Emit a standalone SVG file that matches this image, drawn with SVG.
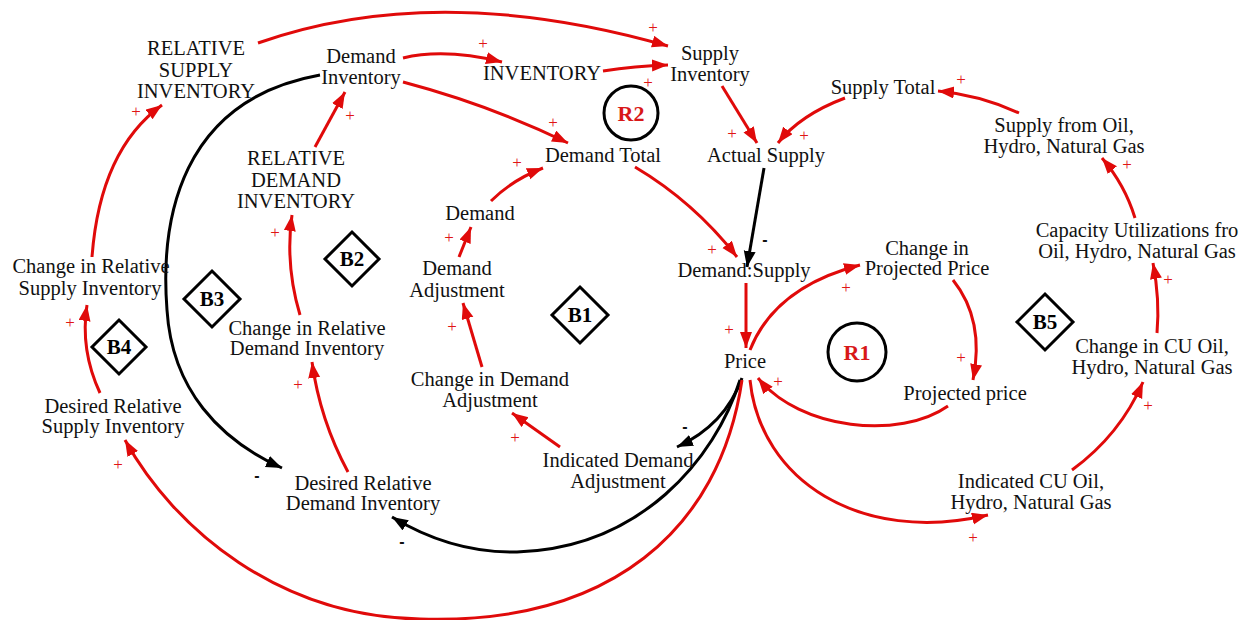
<svg xmlns="http://www.w3.org/2000/svg" width="1249" height="620" viewBox="0 0 1249 620">
<style>
.t{font-family:"Liberation Serif","Times New Roman",serif;font-size:20.5px;fill:#111;text-anchor:middle}
.p{font-family:"Liberation Serif","Times New Roman",serif;font-size:17px;fill:#e01515;text-anchor:middle}
.m{font-family:"Liberation Sans",Arial,sans-serif;font-size:16px;font-weight:bold;fill:#111;text-anchor:middle}
.r{fill:none;stroke:#e00a0a;stroke-width:3;marker-end:url(#ar)}
.k{fill:none;stroke:#000;stroke-width:3;marker-end:url(#ak)}
.d{fill:#fff;stroke:#000;stroke-width:3}
.bl{font-family:"Liberation Serif","Times New Roman",serif;font-size:21px;font-weight:bold;fill:#000;text-anchor:middle}
.rl{font-family:"Liberation Serif","Times New Roman",serif;font-size:22px;font-weight:bold;fill:#d81818;text-anchor:middle}
</style>
<defs>
<marker id="ar" markerUnits="userSpaceOnUse" markerWidth="18" markerHeight="14" refX="16" refY="6" orient="auto"><path d="M0,0 L16,6 L0,12 z" fill="#e00a0a"/></marker>
<marker id="ak" markerUnits="userSpaceOnUse" markerWidth="18" markerHeight="14" refX="16" refY="6" orient="auto"><path d="M0,0 L16,6 L0,12 z" fill="#000"/></marker>
</defs>
<rect width="1249" height="620" fill="#fff"/>
<g id="connectors">
<path class="r" d="M258,43 Q437,-20 668,46"/>
<path class="r" d="M403,58 Q445,48 502,62"/>
<path class="r" d="M603,71 Q635,66 668,65"/>
<path class="r" d="M403,82 Q490,105 568,143"/>
<path class="r" d="M491,201 Q512,180 543,168"/>
<path class="r" d="M635,167 Q694,202 737,257"/>
<path class="r" d="M722,86 Q738,112 757,143"/>
<path class="r" d="M845,98 Q800,115 778,143"/>
<path class="k" d="M764,168 L747,267"/>
<path class="r" d="M1019,113 Q980,95 938,91"/>
<path class="r" d="M1135,218 Q1125,185 1102,158"/>
<path class="r" d="M1157,333 Q1160,300 1153,263"/>
<path class="r" d="M1072,470 Q1120,435 1143,382"/>
<path class="r" d="M750,380 C760,480 860,545 988,515"/>
<path class="r" d="M750,350 Q775,287 860,265"/>
<path class="r" d="M953,280 Q985,320 973,380"/>
<path class="r" d="M948,406 C900,440 800,430 758,378"/>
<path class="r" d="M746,283 L746,348"/>
<path class="k" d="M742,378 Q725,425 677,447"/>
<path class="k" d="M740,380 C715,460 640,548 517,552 C470,553 430,540 392,517"/>
<path class="r" d="M742,380 C720,530 610,625 420,619 C280,617 175,530 125,440"/>
<path class="k" d="M320,75 C180,100 160,220 167,310 C172,390 220,440 282,468"/>
<path class="r" d="M92,257 Q100,150 162,105"/>
<path class="r" d="M100,393 Q80,350 87,305"/>
<path class="r" d="M348,472 Q320,420 312,362"/>
<path class="r" d="M300,315 Q285,265 292,215"/>
<path class="r" d="M315,147 L345,92"/>
<path class="r" d="M459,257 L471,227"/>
<path class="r" d="M482,367 L463,303"/>
<path class="r" d="M560,447 L512,413"/>
<text class="p" x="653" y="33">+</text>
<text class="p" x="483" y="49">+</text>
<text class="p" x="648" y="88">+</text>
<text class="p" x="553" y="128">+</text>
<text class="p" x="517" y="168">+</text>
<text class="p" x="712" y="255">+</text>
<text class="p" x="732" y="139">+</text>
<text class="p" x="804" y="141">+</text>
<text class="m" x="765" y="245">-</text>
<text class="p" x="961" y="85">+</text>
<text class="p" x="1127" y="170">+</text>
<text class="p" x="1168" y="285">+</text>
<text class="p" x="1148" y="411">+</text>
<text class="p" x="973" y="543">+</text>
<text class="p" x="846" y="293">+</text>
<text class="p" x="961" y="363">+</text>
<text class="p" x="778" y="387">+</text>
<text class="p" x="729" y="335">+</text>
<text class="m" x="685" y="432">-</text>
<text class="m" x="402" y="547">-</text>
<text class="p" x="118" y="470">+</text>
<text class="m" x="257" y="481">-</text>
<text class="p" x="136" y="117">+</text>
<text class="p" x="70" y="328">+</text>
<text class="p" x="298" y="390">+</text>
<text class="p" x="275" y="238">+</text>
<text class="p" x="350" y="121">+</text>
<text class="p" x="449" y="243">+</text>
<text class="p" x="452" y="332">+</text>
<text class="p" x="515" y="443">+</text>
</g>
<g id="relative-supply-inventory"><text class="t" x="196" y="55">RELATIVE</text><text class="t" x="196" y="77">SUPPLY</text><text class="t" x="196" y="98">INVENTORY</text></g>
<g id="demand-inventory"><text class="t" x="361" y="63">Demand</text><text class="t" x="361" y="84">Inventory</text></g>
<g id="inventory"><text class="t" x="542" y="80">INVENTORY</text></g>
<g id="supply-inventory"><text class="t" x="710" y="60">Supply</text><text class="t" x="710" y="81">Inventory</text></g>
<g id="demand-total"><text class="t" x="603" y="162">Demand Total</text></g>
<g id="actual-supply"><text class="t" x="766" y="162">Actual Supply</text></g>
<g id="supply-total"><text class="t" x="883" y="94">Supply Total</text></g>
<g id="supply-from-oil"><text class="t" x="1064" y="132">Supply from Oil,</text><text class="t" x="1064" y="153">Hydro, Natural Gas</text></g>
<g id="capacity-utilizations"><text class="t" x="1137" y="237">Capacity Utilizations fro</text><text class="t" x="1137" y="258">Oil, Hydro, Natural Gas</text></g>
<g id="change-in-projected-price"><text class="t" x="927" y="255">Change in</text><text class="t" x="927" y="275">Projected Price</text></g>
<g id="demand-supply"><text class="t" x="744" y="277">Demand:Supply</text></g>
<g id="demand"><text class="t" x="480" y="220">Demand</text></g>
<g id="demand-adjustment"><text class="t" x="457" y="275">Demand</text><text class="t" x="457" y="297">Adjustment</text></g>
<g id="relative-demand-inventory"><text class="t" x="296" y="165">RELATIVE</text><text class="t" x="296" y="187">DEMAND</text><text class="t" x="296" y="208">INVENTORY</text></g>
<g id="change-in-relative-supply-inventory"><text class="t" x="91" y="273">Change in Relative</text><text class="t" x="90" y="295">Supply Inventory</text></g>
<g id="change-in-relative-demand-inventory"><text class="t" x="307" y="335">Change in Relative</text><text class="t" x="307" y="355">Demand Inventory</text></g>
<g id="desired-relative-supply-inventory"><text class="t" x="113" y="413">Desired Relative</text><text class="t" x="113" y="433">Supply Inventory</text></g>
<g id="desired-relative-demand-inventory"><text class="t" x="363" y="490">Desired Relative</text><text class="t" x="363" y="510">Demand Inventory</text></g>
<g id="change-in-demand-adjustment"><text class="t" x="490" y="386">Change in Demand</text><text class="t" x="490" y="407">Adjustment</text></g>
<g id="price"><text class="t" x="745" y="368">Price</text></g>
<g id="indicated-demand-adjustment"><text class="t" x="618" y="467">Indicated Demand</text><text class="t" x="618" y="488">Adjustment</text></g>
<g id="projected-price"><text class="t" x="965" y="400">Projected price</text></g>
<g id="change-in-cu"><text class="t" x="1152" y="353">Change in CU Oil,</text><text class="t" x="1152" y="374">Hydro, Natural Gas</text></g>
<g id="indicated-cu"><text class="t" x="1031" y="488">Indicated CU Oil,</text><text class="t" x="1031" y="509">Hydro, Natural Gas</text></g>
<g id="loop-B1"><polygon class="d" points="580,287 608,315 580,343 552,315"/><text class="bl" x="580" y="322">B1</text></g>
<g id="loop-B2"><polygon class="d" points="352,232 379,259 352,286 325,259"/><text class="bl" x="352" y="266">B2</text></g>
<g id="loop-B3"><polygon class="d" points="212,271 240,299 212,327 184,299"/><text class="bl" x="212" y="306">B3</text></g>
<g id="loop-B4"><polygon class="d" points="119,320 146,347 119,374 92,347"/><text class="bl" x="119" y="354">B4</text></g>
<g id="loop-B5"><polygon class="d" points="1045,294 1073,322 1045,350 1017,322"/><text class="bl" x="1045" y="329">B5</text></g>
<g id="loop-R1"><circle cx="857" cy="352" r="29" fill="#fff" stroke="#000" stroke-width="3"/><text class="rl" x="857" y="360">R1</text></g>
<g id="loop-R2"><circle cx="631" cy="113" r="27" fill="#fff" stroke="#000" stroke-width="3"/><text class="rl" x="631" y="121">R2</text></g>
</svg>
